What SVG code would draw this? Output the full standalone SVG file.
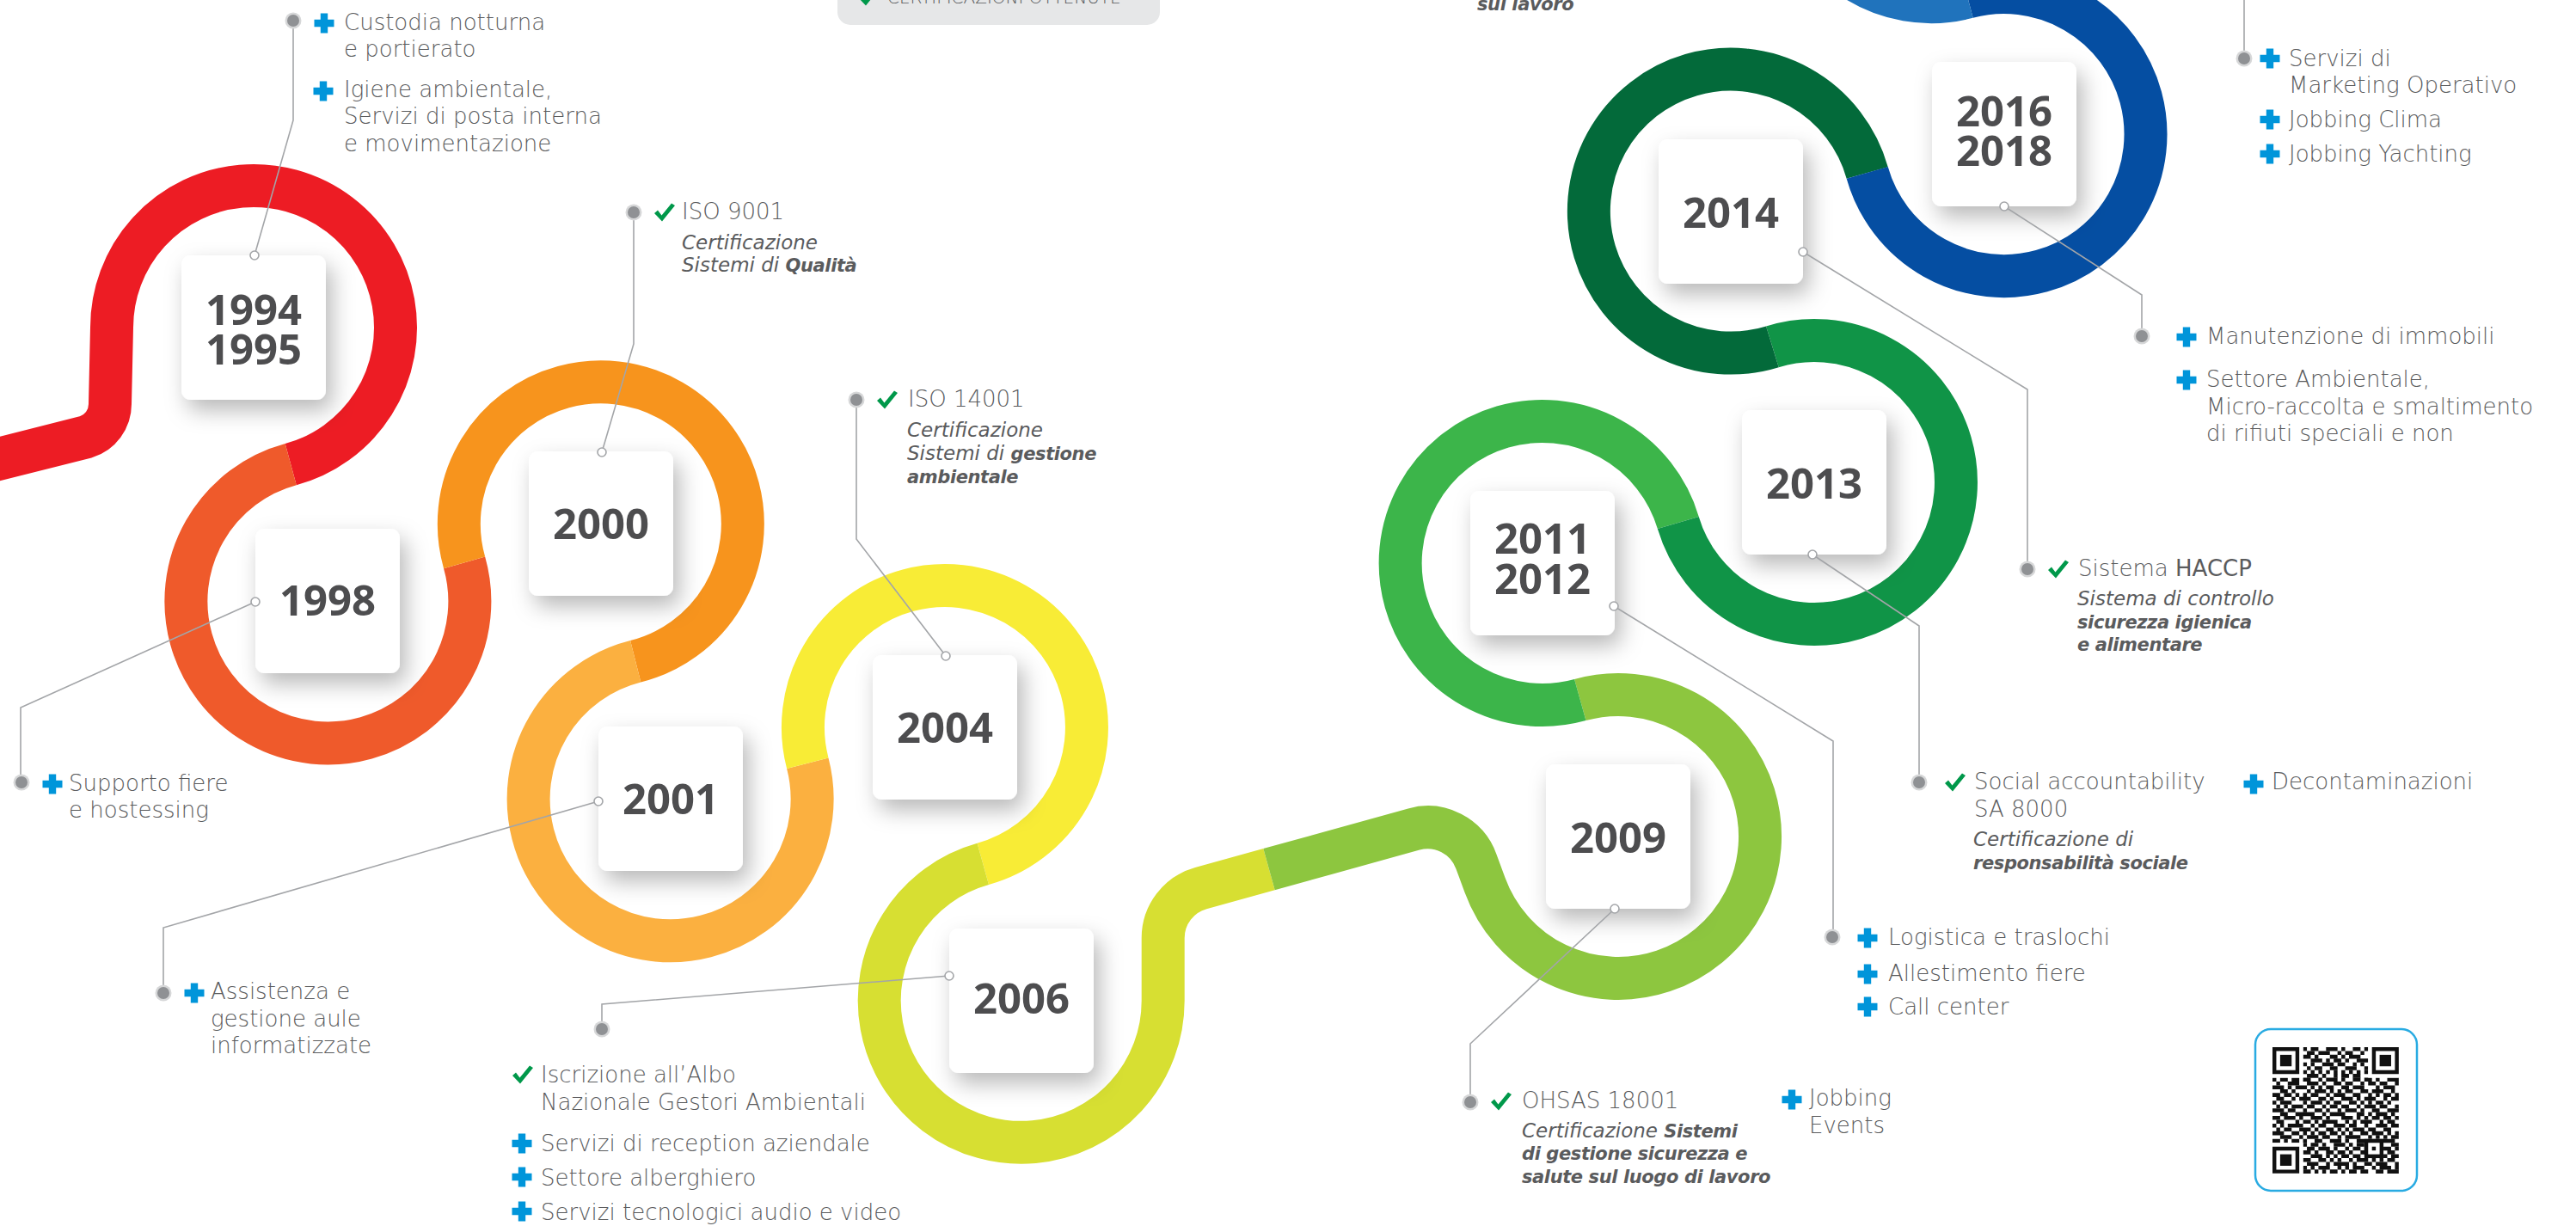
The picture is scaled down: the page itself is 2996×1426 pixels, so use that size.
<svg xmlns="http://www.w3.org/2000/svg" width="2996" height="1426" viewBox="0 0 2996 1426">
<defs>
<style>
.rg{fill:none;stroke-width:50}
.yr{font-family:"Open Sans","Liberation Sans",sans-serif;font-weight:700;font-size:49px;fill:#4D4D4F;text-anchor:middle}
.lb{font-family:"DejaVu Sans","Liberation Sans",sans-serif;font-size:26px;fill:#5A5B5D;font-weight:300}
.it{font-family:"DejaVu Sans","Liberation Sans",sans-serif;font-size:23px;fill:#5A5B5D;font-style:italic}
.b{font-weight:700;font-size:21px;letter-spacing:-0.4px}
.cn{fill:none;stroke:#A3A5A8;stroke-width:1.6}
.oc{fill:#fff;stroke:#A3A5A8;stroke-width:1.6}
.bx{fill:#fff}
.qr{fill:none;stroke:#111;stroke-width:1.02}
</style>
<filter id="sh" x="-40%" y="-40%" width="190%" height="190%">
<feDropShadow dx="7" dy="12" stdDeviation="13" flood-color="#000" flood-opacity="0.28"/>
</filter>
<path id="plus" d="M-4.2-11.5H4.2V-4.2H11.5V4.2H4.2V11.5H-4.2V4.2H-11.5V-4.2H-4.2Z" fill="#0095DA"/>
<path id="chk" d="M-12 1L-8-2.5L-3.5 3.5L8-10.5L12-8L-3 10.5Z" fill="#00984A"/>
<g id="dot"><circle r="9.5" fill="#D6D7D8"/><circle r="7" fill="#8F9194"/></g>
</defs>
<rect width="2996" height="1426" fill="#fff"/>

<g id="ring">
<path class="rg" stroke="#ED1C24" d="M-10 536L99.7 508.3A40 40 0 0 0 128 470L130 381A165 165 0 1 1 338.2 540.2"/>
<path class="rg" stroke="#EF5A2B" d="M338.2 540.2A165 165 0 1 0 540.1 654.4"/>
<path class="rg" stroke="#F7941D" d="M540.1 654.4A165 165 0 1 1 739.2 769.3"/>
<path class="rg" stroke="#FBB040" d="M739.2 769.3A165 165 0 1 0 939.3 887.7"/>
<path class="rg" stroke="#F8EC36" d="M939.3 887.7A165 165 0 1 1 1143.3 1004.9"/>
<path class="rg" stroke="#D7DF32" d="M1143.3 1004.9A165 165 0 1 0 1352.7 1163.9L1352.7 1091A60 60 0 0 1 1396.7 1033.2L1476 1011.2"/>
<path class="rg" stroke="#8DC63F" d="M1476 1011.2L1644.4 964.5A60 60 0 0 1 1716.9 1001.9L1727 1029.4A165 165 0 1 0 1837.8 814"/>
<path class="rg" stroke="#3CB54A" d="M1837.8 814A165 165 0 1 1 1951.8 608"/>
<path class="rg" stroke="#109447" d="M1951.8 608A165 165 0 1 0 2061.4 403.3"/>
<path class="rg" stroke="#036A3A" d="M2061.4 403.3A165 165 0 1 1 2171.7 200.9"/>
<path class="rg" stroke="#054EA2" d="M2171.7 200.9A165 165 0 1 0 2288.3 -3.4"/>
<path class="rg" stroke="#2073BC" d="M2288.3 -3.4A165 165 0 0 1 2081 -162.9"/>
</g>

<g id="y1994"><rect class="bx" x="211" y="297" width="168" height="168" rx="11" filter="url(#sh)"/><text class="yr" x="295" y="378">1994</text><text class="yr" x="295" y="424">1995</text></g>
<g id="y1998"><rect class="bx" x="297" y="615" width="168" height="168" rx="11" filter="url(#sh)"/><text class="yr" x="381" y="716">1998</text></g>
<g id="y2000"><rect class="bx" x="615" y="525" width="168" height="168" rx="11" filter="url(#sh)"/><text class="yr" x="699" y="627">2000</text></g>
<g id="y2001"><rect class="bx" x="696" y="845" width="168" height="168" rx="11" filter="url(#sh)"/><text class="yr" x="780" y="947">2001</text></g>
<g id="y2004"><rect class="bx" x="1015" y="762" width="168" height="168" rx="11" filter="url(#sh)"/><text class="yr" x="1099" y="864">2004</text></g>
<g id="y2006"><rect class="bx" x="1104" y="1080" width="168" height="168" rx="11" filter="url(#sh)"/><text class="yr" x="1188" y="1179">2006</text></g>
<g id="y2009"><rect class="bx" x="1798" y="889" width="168" height="168" rx="11" filter="url(#sh)"/><text class="yr" x="1882" y="992">2009</text></g>
<g id="y2011"><rect class="bx" x="1710" y="571" width="168" height="168" rx="11" filter="url(#sh)"/><text class="yr" x="1794" y="644">2011</text><text class="yr" x="1794" y="691">2012</text></g>
<g id="y2013"><rect class="bx" x="2026" y="477" width="168" height="168" rx="11" filter="url(#sh)"/><text class="yr" x="2110" y="580">2013</text></g>
<g id="y2014"><rect class="bx" x="1929" y="162" width="168" height="168" rx="11" filter="url(#sh)"/><text class="yr" x="2013" y="265">2014</text></g>
<g id="y2016"><rect class="bx" x="2247" y="72" width="168" height="168" rx="11" filter="url(#sh)"/><text class="yr" x="2331" y="147">2016</text><text class="yr" x="2331" y="193">2018</text></g>

<g id="connectors">
<path class="cn" d="M296 297L341 140V24"/>
<path class="cn" d="M700 526L737 400V247"/>
<path class="cn" d="M297 700L24 823V910"/>
<path class="cn" d="M696 932L190 1079V1155"/>
<path class="cn" d="M1100 763L996 627V465"/>
<path class="cn" d="M1104 1135L700 1168V1197"/>
<path class="cn" d="M1878 1057L1710 1214V1282"/>
<path class="cn" d="M1877 705L2132 862V1090"/>
<path class="cn" d="M2108 645L2232 728V910"/>
<path class="cn" d="M2097 293L2358 453V662"/>
<path class="cn" d="M2331 240L2491 343V391"/>
<path class="cn" d="M2610 0V68"/>
<circle class="oc" cx="296" cy="297" r="5"/>
<circle class="oc" cx="700" cy="526" r="5"/>
<circle class="oc" cx="297" cy="700" r="5"/>
<circle class="oc" cx="696" cy="932" r="5"/>
<circle class="oc" cx="1100" cy="763" r="5"/>
<circle class="oc" cx="1104" cy="1135" r="5"/>
<circle class="oc" cx="1878" cy="1057" r="5"/>
<circle class="oc" cx="1877" cy="705" r="5"/>
<circle class="oc" cx="2108" cy="645" r="5"/>
<circle class="oc" cx="2097" cy="293" r="5"/>
<circle class="oc" cx="2331" cy="240" r="5"/>
<use href="#dot" x="341" y="24"/>
<use href="#dot" x="737" y="247"/>
<use href="#dot" x="25" y="910"/>
<use href="#dot" x="190" y="1155"/>
<use href="#dot" x="996" y="465"/>
<use href="#dot" x="700" y="1197"/>
<use href="#dot" x="1710" y="1282"/>
<use href="#dot" x="2131" y="1090"/>
<use href="#dot" x="2232" y="910"/>
<use href="#dot" x="2358" y="662"/>
<use href="#dot" x="2491" y="391"/>
<use href="#dot" x="2610" y="68"/>
</g>

<g id="t1994">
<use href="#plus" x="377" y="27"/>
<text class="lb" x="400" y="35">Custodia notturna</text>
<text class="lb" x="400" y="66">e portierato</text>
<use href="#plus" x="376" y="106"/>
<text class="lb" x="400" y="113">Igiene ambientale,</text>
<text class="lb" x="400" y="144">Servizi di posta interna</text>
<text class="lb" x="400" y="176">e movimentazione</text>
</g>
<g id="t2000">
<use href="#chk" x="773" y="247"/>
<text class="lb" x="793" y="255">ISO 9001</text>
<text class="it" x="793" y="290">Certificazione</text>
<text class="it" x="793" y="316">Sistemi di <tspan class="b">Qualità</tspan></text>
</g>
<g id="t1998">
<use href="#plus" x="61" y="912"/>
<text class="lb" x="80" y="920">Supporto fiere</text>
<text class="lb" x="80" y="951">e hostessing</text>
</g>
<g id="t2001">
<use href="#plus" x="226" y="1155"/>
<text class="lb" x="245" y="1162">Assistenza e</text>
<text class="lb" x="245" y="1194">gestione aule</text>
<text class="lb" x="245" y="1225">informatizzate</text>
</g>
<g id="t2004">
<use href="#chk" x="1032" y="465"/>
<text class="lb" x="1056" y="473">ISO 14001</text>
<text class="it" x="1055" y="508">Certificazione</text>
<text class="it" x="1055" y="535">Sistemi di <tspan class="b">gestione</tspan></text>
<text class="it b" x="1055" y="562">ambientale</text>
</g>
<g id="t2006">
<use href="#chk" x="608" y="1250"/>
<text class="lb" x="629" y="1259">Iscrizione all’Albo</text>
<text class="lb" x="629" y="1291">Nazionale Gestori Ambientali</text>
<use href="#plus" x="607" y="1330"/>
<text class="lb" x="629" y="1339">Servizi di reception aziendale</text>
<use href="#plus" x="607" y="1369"/>
<text class="lb" x="629" y="1379">Settore alberghiero</text>
<use href="#plus" x="607" y="1409"/>
<text class="lb" x="629" y="1419">Servizi tecnologici audio e video</text>
</g>
<g id="t2009">
<use href="#chk" x="1746" y="1281"/>
<text class="lb" x="1770" y="1289">OHSAS 18001</text>
<text class="it" x="1770" y="1323">Certificazione <tspan class="b">Sistemi</tspan></text>
<text class="it b" x="1770" y="1349">di gestione sicurezza e</text>
<text class="it b" x="1770" y="1376">salute sul luogo di lavoro</text>
<use href="#plus" x="2084" y="1279"/>
<text class="lb" x="2104" y="1286">Jobbing</text>
<text class="lb" x="2104" y="1318">Events</text>
</g>
<g id="t2011">
<use href="#plus" x="2172" y="1091"/>
<text class="lb" x="2196" y="1099">Logistica e traslochi</text>
<use href="#plus" x="2172" y="1133"/>
<text class="lb" x="2196" y="1141">Allestimento fiere</text>
<use href="#plus" x="2172" y="1171"/>
<text class="lb" x="2196" y="1180">Call center</text>
</g>
<g id="t2013">
<use href="#chk" x="2274" y="910"/>
<text class="lb" x="2296" y="918">Social accountability</text>
<text class="lb" x="2296" y="950">SA 8000</text>
<text class="it" x="2295" y="984">Certificazione di</text>
<text class="it b" x="2295" y="1011">responsabilità sociale</text>
<use href="#plus" x="2621" y="912"/>
<text class="lb" x="2642" y="918">Decontaminazioni</text>
</g>
<g id="t2014">
<use href="#chk" x="2394" y="662"/>
<text class="lb" x="2417" y="670">Sistema <tspan style="font-weight:400">HACCP</tspan></text>
<text class="it" x="2416" y="704">Sistema di controllo</text>
<text class="it b" x="2416" y="731">sicurezza igienica</text>
<text class="it b" x="2416" y="757">e alimentare</text>
</g>
<g id="t2016b">
<use href="#plus" x="2543" y="392"/>
<text class="lb" x="2566" y="400">Manutenzione di immobili</text>
<use href="#plus" x="2543" y="442"/>
<text class="lb" x="2566" y="450">Settore Ambientale,</text>
<text class="lb" x="2566" y="482">Micro-raccolta e smaltimento</text>
<text class="lb" x="2566" y="513">di rifiuti speciali e non</text>
</g>
<g id="t2016t">
<use href="#plus" x="2640" y="68"/>
<text class="lb" x="2662" y="77">Servizi di</text>
<text class="lb" x="2662" y="108">Marketing Operativo</text>
<use href="#plus" x="2640" y="139"/>
<text class="lb" x="2662" y="148">Jobbing Clima</text>
<use href="#plus" x="2640" y="179"/>
<text class="lb" x="2662" y="188">Jobbing Yachting</text>
</g>

<g id="legend">
<rect x="974" y="-30" width="375" height="59" rx="15" fill="#E6E7E8"/>
<use href="#chk" x="1010" y="-4"/>
<text class="lb" x="1032" y="4" style="font-size:20px">CERTIFICAZIONI OTTENUTE</text>
</g>
<text class="it b" x="1718" y="12">sul lavoro</text>

<g id="qrcode">
<rect x="2623" y="1197" width="188" height="188" rx="18" fill="#fff" stroke="#29ABE2" stroke-width="2.5"/>
<g transform="translate(2643 1218) scale(4.45)">
<path class="qr" stroke-dasharray="0 8 1 1 2 2 3 1 1 2 2 1 1 8" d="M0 0.5h33"/>
<path class="qr" stroke-dasharray="0 9 2 1 3 2 1 1 2 2 1 9" d="M0 1.5h33"/>
<path class="qr" stroke-dasharray="0 8 2 1 1 3 2 1 1 1 3 10" d="M0 2.5h33"/>
<path class="qr" stroke-dasharray="0 10 3 1 1 1 2 1 1 2 3 8" d="M0 3.5h33"/>
<path class="qr" stroke-dasharray="0 8 1 1 1 2 3 1 2 2 1 1 1 9" d="M0 4.5h33"/>
<path class="qr" stroke-dasharray="0 9 1 1 2 2 2 2 3 2 1 8" d="M0 5.5h33"/>
<path class="qr" stroke-dasharray="0 8 1 1 1 1 1 1 1 1 1 1 1 1 1 1 1 1 1 8" d="M0 6.5h33"/>
<path class="qr" stroke-dasharray="0 9 3 1 1 2 1 1 2 1 2 10" d="M0 7.5h33"/>
<path class="qr" stroke-dasharray="1 1 2 1 2 1 2 2 1 1 3 1 1 2 2 1 2 1 1 2 3 0" d="M0 8.5h33"/>
<path class="qr" stroke-dasharray="0 1 1 2 3 2 3 1 1 2 2 1 2 2 1 1 2 1 2 2 1" d="M0 9.5h33"/>
<path class="qr" stroke-dasharray="3 1 1 1 3 1 1 1 1 1 2 2 2 1 3 3 1 1 3 1" d="M0 10.5h33"/>
<path class="qr" stroke-dasharray="0 2 2 1 1 3 1 1 3 1 1 1 1 1 2 2 2 1 3 2 1 1" d="M0 11.5h33"/>
<path class="qr" stroke-dasharray="2 1 2 1 1 1 1 1 2 2 1 1 3 2 2 2 1 1 1 1 2 1 1 0" d="M0 12.5h33"/>
<path class="qr" stroke-dasharray="0 1 2 2 1 1 3 2 2 1 1 2 3 1 1 1 3 2 1 1 2" d="M0 13.5h33"/>
<path class="qr" stroke-dasharray="1 1 3 3 1 1 3 1 1 1 2 2 2 1 1 1 1 1 2 1 1 2" d="M0 14.5h33"/>
<path class="qr" stroke-dasharray="0 1 1 1 1 1 3 1 2 2 1 1 2 1 2 2 1 1 3 1 2 2 1" d="M0 15.5h33"/>
<path class="qr" stroke-dasharray="3 1 2 2 1 2 2 1 1 2 1 1 3 1 1 2 2 2 3 0" d="M0 16.5h33"/>
<path class="qr" stroke-dasharray="0 2 2 2 5 2 1 1 4 3 2 1 1 1 3 1 1 1" d="M0 17.5h33"/>
<path class="qr" stroke-dasharray="2 1 3 1 1 2 3 1 1 3 3 1 1 1 1 1 2 1 2 1 1 0" d="M0 18.5h33"/>
<path class="qr" stroke-dasharray="0 1 2 3 1 1 2 1 1 1 4 2 1 1 1 1 3 2 1 1 2 1" d="M0 19.5h33"/>
<path class="qr" stroke-dasharray="1 1 1 1 4 2 1 1 2 2 3 1 2 2 1 2 3 1 2 0" d="M0 20.5h33"/>
<path class="qr" stroke-dasharray="0 1 1 1 2 2 3 1 1 2 2 1 1 1 1 1 3 1 2 2 2 2" d="M0 21.5h33"/>
<path class="qr" stroke-dasharray="3 2 2 1 1 1 1 1 2 1 2 1 1 1 1 2 2 1 3 1 1 1 1 0" d="M0 22.5h33"/>
<path class="qr" stroke-dasharray="0 2 3 2 1 1 3 1 2 2 1 1 4 2 1 1 1 1 1 1 2" d="M0 23.5h33"/>
<path class="qr" stroke-dasharray="2 1 1 1 2 1 1 2 2 2 3 1 1 2 3 1 1 1 4 1" d="M0 24.5h33"/>
<path class="qr" stroke-dasharray="0 8 1 1 2 1 1 2 3 1 1 1 2 1 1 1 2 2 2" d="M0 25.5h33"/>
<path class="qr" stroke-dasharray="0 9 2 1 3 1 1 2 1 1 2 1 1 1 2 1 2 1 1" d="M0 26.5h33"/>
<path class="qr" stroke-dasharray="0 8 2 1 1 2 2 1 2 1 1 2 3 2 1 1 2 1" d="M0 27.5h33"/>
<path class="qr" stroke-dasharray="0 10 3 1 1 1 1 1 2 1 2 2 3 1 1 1 2" d="M0 28.5h33"/>
<path class="qr" stroke-dasharray="0 8 2 2 2 1 1 1 1 2 1 1 3 1 1 1 1 1 2 1" d="M0 29.5h33"/>
<path class="qr" stroke-dasharray="0 9 3 2 1 1 4 1 1 2 2 1 3 2 1" d="M0 30.5h33"/>
<path class="qr" stroke-dasharray="0 8 1 1 1 1 3 2 1 1 1 1 3 2 1 1 3 1 1" d="M0 31.5h33"/>
<path class="qr" stroke-dasharray="0 8 2 1 1 1 1 1 2 1 1 1 2 1 2 2 2 1 3" d="M0 32.5h33"/>
<rect x="0" y="0" width="8" height="8" fill="#fff"/>
<rect x="25" y="0" width="8" height="8" fill="#fff"/>
<rect x="0" y="25" width="8" height="8" fill="#fff"/>
<rect x="24" y="24" width="5" height="5" fill="#111"/>
<rect x="25" y="25" width="3" height="3" fill="#fff"/>
<rect x="26" y="26" width="1" height="1" fill="#111"/>
<g fill="#111">
<path d="M0 0h7v7h-7zM1 1v5h5v-5z" fill-rule="evenodd"/>
<rect x="2" y="2" width="3" height="3"/>
<path d="M26 0h7v7h-7zM27 1v5h5v-5z" fill-rule="evenodd"/>
<rect x="28" y="2" width="3" height="3"/>
<path d="M0 26h7v7h-7zM1 27v5h5v-5z" fill-rule="evenodd"/>
<rect x="2" y="28" width="3" height="3"/>
</g>
</g>
</g>
</svg>
